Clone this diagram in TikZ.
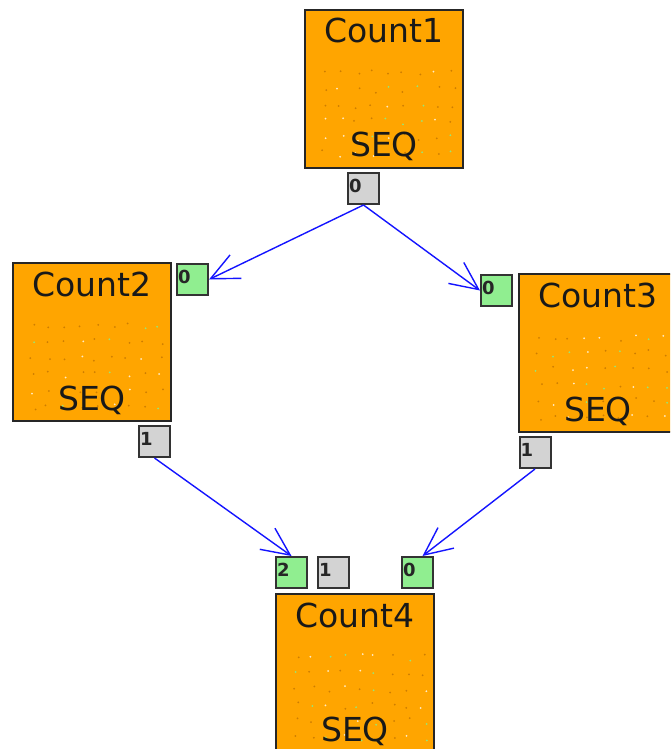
\documentclass[tikz,border=0pt]{standalone}
\usepackage{fontspec}
\setmainfont{DejaVu Sans}
\usetikzlibrary{arrows.meta}

\definecolor{seqorange}{RGB}{255,165,0}
\definecolor{ingreen}{RGB}{144,238,144}
\definecolor{outgray}{RGB}{211,211,211}
\definecolor{wireblue}{RGB}{20,20,255}
\definecolor{speckdark}{RGB}{205,125,0}
\definecolor{specklight}{RGB}{255,236,200}
\definecolor{speckgreen}{RGB}{150,230,120}

\tikzset{
  block/.style={draw=black!85, line width=2pt, fill=seqorange,
    minimum size=158pt, inner sep=0pt},
  blocktitle/.style={anchor=base, yshift=-34pt, inner sep=0pt,
    text=black!90, font=\fontsize{33}{33}\selectfont},
  blockkind/.style={anchor=base, yshift=12pt, inner sep=0pt,
    text=black!90, font=\fontsize{33}{33}\selectfont},
  port/.style={draw=black!80, line width=2pt, minimum size=31pt, inner sep=0pt},
  inport/.style={port, fill=ingreen},
  outport/.style={port, fill=outgray},
  portnum/.style={anchor=base west, xshift=2pt, yshift=-20pt, inner sep=0pt,
    text=black!85, font=\bfseries\fontsize{18}{18}\selectfont},
  wire/.style={draw=wireblue, line width=1.4pt,
    -{Straight Barb[length=28pt, width=26pt]}}
}

\begin{document}
\begin{tikzpicture}[x=1pt, y=-1pt]
  \useasboundingbox (0,0) rectangle (670,749);
  \fill [white] (0,0) rectangle (670,749);
  \clip (0,0) rectangle (670,749);

  \node [block] (count1) at (384,89) {};
  \node [block] (count2) at (92,342) {};
  \node [block] (count3) at (598,353) {};
  \node [block] (count4) at (355,673) {};

  \pgfmathsetseed{41}
  \foreach \b in {count1,count2,count3,count4}
    \foreach \i in {0,...,8}
      \foreach \j in {0,...,5} {
        \pgfmathsetmacro\dx{-63+\i*16+rnd*7}
        \pgfmathsetmacro\dy{-19+\j*16+rnd*7}
        \pgfmathtruncatemacro\c{3.6*rnd}
        \ifcase\c \def\speck{speckdark}\or \def\speck{specklight}\or
          \def\speck{speckdark}\else \def\speck{speckgreen}\fi
        \fill [\speck] ([shift={(\dx,\dy)}]\b.center) circle (1pt);
      }

  \foreach \b/\t in {count1/Count1,count2/Count2,count3/Count3,count4/Count4} {
    \node [blocktitle] at (\b.north) {\t};
    \node [blockkind] at (\b.south) {SEQ};
  }

  \node [outport, label={[portnum]north west:0}] (out1) at (363.5,188.5) {};
  \node [inport,  label={[portnum]north west:0}] (in2)  at (192.5,279.5) {};
  \node [inport,  label={[portnum]north west:0}] (in3)  at (496.5,290.5) {};
  \node [outport, label={[portnum]north west:1}] (out2) at (154.5,441.5) {};
  \node [outport, label={[portnum]north west:1}] (out3) at (535,452.5) {};
  \node [inport,  label={[portnum]north west:2}] (in4b) at (291.5,572.5) {};
  \node [outport, label={[portnum]north west:1}] (out4) at (333.5,572.5) {};
  \node [inport,  label={[portnum]north west:0}] (in4a) at (417.5,572.5) {};

  \draw [wire] (out1.south) -- (in2.east);
  \draw [wire] (out1.south) -- (in3.west);
  \draw [wire] (out2.south) -- (in4b.north);
  \draw [wire] (out3.south) -- ([xshift=5pt]in4a.north);
\end{tikzpicture}
\end{document}
